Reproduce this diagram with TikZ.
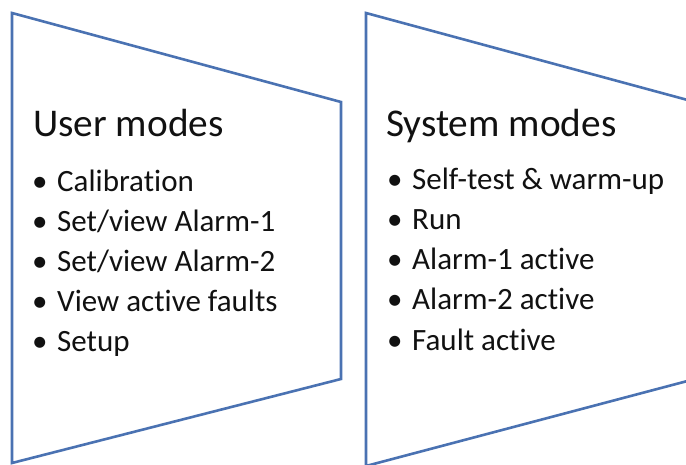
\documentclass[tikz,border=0pt]{standalone}
\usepackage{fontspec}
\setmainfont[Ligatures={NoCommon}]{Carlito}
\definecolor{edgeblue}{HTML}{4A72B2}
\definecolor{txt}{HTML}{111111}
\begin{document}
\begin{tikzpicture}[x=1pt,y=-1pt,
  shapeline/.style={draw=edgeblue,line width=2.6pt,line join=miter},
  heading/.style={anchor=base west,inner sep=0pt,text=txt,font=\fontsize{39.3}{42}\selectfont},
  item/.style={anchor=base west,inner sep=0pt,text=txt,font=\fontsize{31}{34}\selectfont},
  dot/.style={anchor=base west,inner sep=0pt,text=txt,font=\fontsize{31}{34}\selectfont}]
\useasboundingbox (0,0) rectangle (686,465);
\begin{scope}
\clip (0,0) rectangle (686,465);
\draw[shapeline] (12,13) -- (341,102) -- (341,379) -- (12,463) -- cycle;
\draw[shapeline] (366,13) -- (695,102) -- (695,379) -- (366,466) -- cycle;
\end{scope}
\node[heading] (uh) at (33,137) {User modes};
\foreach \t [count=\i] in {Calibration,Set/view Alarm-1,Set/view Alarm-2,View active faults,Setup}{
  \node[dot] (ub\i) at (32,152+40*\i) {\textbullet};
  \node[item] (ui\i) at (57,152+40*\i) {\t};
}
\node[heading] (sh) at (386,137) {System modes};
\foreach \t [count=\i] in {Self-test \& warm-up,Run,Alarm-1 active,Alarm-2 active,Fault active}{
  \node[dot] (sb\i) at (387,150+40*\i) {\textbullet};
  \node[item] (si\i) at (412,150+40*\i) {\t};
}
\end{tikzpicture}
\end{document}
